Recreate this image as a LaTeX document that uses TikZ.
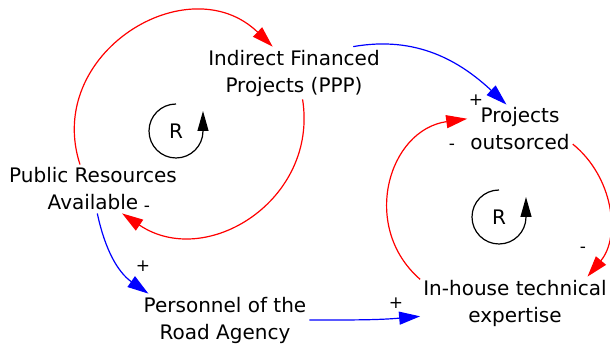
\documentclass[tikz,border=0pt]{standalone}
\usepackage{fontspec}
\setmainfont{DejaVu Sans}
\usetikzlibrary{arrows.meta}
\begin{document}
\begin{tikzpicture}[x=1pt,y=1pt,
    var/.style={align=center,inner sep=3pt,font=\fontsize{20}{27}\selectfont},
    polar/.style={inner sep=0pt,font=\fontsize{17}{17}\selectfont},
    redlink/.style={red,line width=1.2pt,-{Triangle[length=21pt,width=13pt]}},
    bluelink/.style={blue,line width=1.2pt,-{Triangle[length=21pt,width=13pt]}},
    loopmark/.style={line width=1.2pt,-{Triangle[length=20pt,width=11pt]}}]
    \useasboundingbox (0,0) rectangle (610,345);
    % variables
    \node[var] (ifp) at (294,272) {Indirect Financed\\Projects (PPP)};
    \node[var] (pra) at (93,156) {Public Resources\\Available};
    \node[var] (po) at (520,216) {Projects\\outsorced};
    \node[var] (pers) at (225,25) {Personnel of the\\Road Agency};
    \node[var] (ihte) at (515,42) {In-house technical\\expertise};
    % loop markers
    \node[var,inner sep=0pt] (rl) at (176,214) {R};
    \node[var,inner sep=0pt] (rr) at (499,128) {R};
    \draw[loopmark] (rl) ++(0,27) arc[start angle=90,end angle=360,radius=27] -- ++(0,20);
    \draw[loopmark] (rr) ++(0,27) arc[start angle=90,end angle=360,radius=27] -- ++(0,20);
    % links
    \draw[redlink] (pra.118) to[out=108,in=136,looseness=1.33] (ifp.129);
    \draw[redlink] (ifp.-72) to[out=-81,in=-34,looseness=1.22] (pra.-40);
    \draw[redlink] (ihte.166) to[out=139,in=188,looseness=1.22] (po.169);
    \draw[redlink] (po.-16) to[out=-39,in=50] (ihte.20);
    \draw[bluelink] (ifp.24) to[out=10,in=137] (po.119);
    \draw[bluelink] (pra.-80) to[out=-78,in=145] (pers.161);
    \draw[bluelink] (pers.east) to[out=0,in=185] (ihte.188);
    % polarities
    \node[polar] (p1) at (147,136) {-};
    \node[polar] (p2) at (143,79) {+};
    \node[polar] (p3) at (476,245) {+};
    \node[polar] (p4) at (452,198) {-};
    \node[polar] (p5) at (583,95) {-};
    \node[polar] (p6) at (396,42) {+};
\end{tikzpicture}
\end{document}
